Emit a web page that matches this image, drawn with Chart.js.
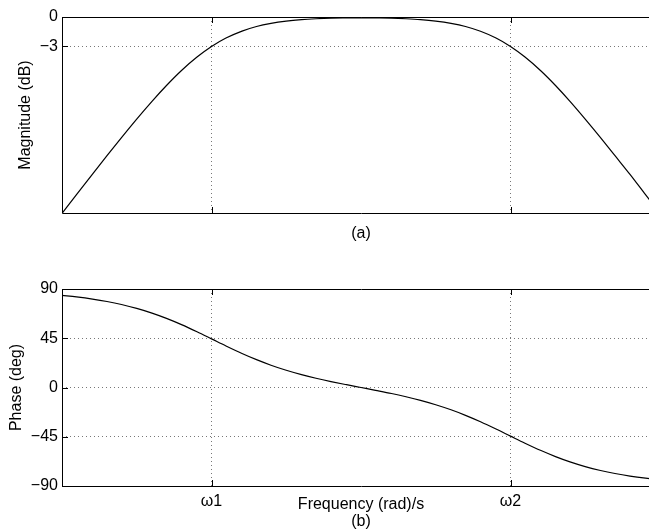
<!DOCTYPE html>
<html>
<head>
<meta charset="utf-8">
<title>Bode plot</title>
<script src="https://cdn.jsdelivr.net/npm/chart.js@4.4.0/dist/chart.umd.min.js"></script>
<style>
  html, body { margin: 0; padding: 0; background: #fff; overflow: hidden; }
  #wrap { position: relative; width: 649px; height: 532px; overflow: hidden; }
  #magBox { position: absolute; left: 0; top: 0; width: 662px; height: 250px; }
  #phaseBox { position: absolute; left: 0; top: 250px; width: 662px; height: 282px; }
</style>
</head>
<body>
<div id="wrap">
  <div id="magBox"><canvas id="magChart"></canvas></div>
  <div id="phaseBox"><canvas id="phaseChart"></canvas></div>
</div>
<script>
// frequency samples (rad/s, w1 = 1, w2 = 100)
const freqs = [0.1, 0.125, 0.16, 0.2, 0.25, 0.316, 0.4, 0.5, 0.63, 0.8,
               1, 1.25, 1.6, 2, 2.5, 3.16, 4, 5, 6.3, 8,
               10, 12.5, 16, 20, 25, 31.6, 40, 50, 63, 80,
               100, 125, 160, 200, 250, 316, 400, 500, 630, 800, 1000];
const magDb = [-20.04, -18.13, -16.03, -14.15, -12.30, -10.41, -8.60, -6.99, -5.46, -4.09,
               -3.01, -2.15, -1.44, -0.97, -0.65, -0.42, -0.27, -0.18, -0.12, -0.10,
               -0.09, -0.10, -0.12, -0.18, -0.27, -0.42, -0.65, -0.97, -1.46, -2.15,
               -3.01, -4.09, -5.51, -6.99, -8.60, -10.41, -12.30, -14.15, -16.06, -18.13, -20.04];
const phaseDeg = [84.23, 82.80, 80.82, 78.58, 75.82, 72.27, 67.97, 63.14, 57.43, 50.88,
                  44.43, 37.94, 31.09, 25.42, 20.37, 15.74, 11.75, 8.45, 5.42, 2.56,
                  0, -2.56, -5.47, -8.45, -11.75, -15.74, -20.37, -25.42, -31.3, -37.94,
                  -44.43, -50.88, -57.63, -63.14, -67.97, -72.27, -75.82, -78.58, -80.9, -82.80, -84.23];

const freqTicks = [1, 100];
const freqTickLabels = ['ω1', 'ω2'];
const magTicks = [0, -3];
const magTickLabels = ['0', '−3'];
const phaseTicks = [90, 45, 0, -45, -90];
const phaseTickLabels = ['90', '45', '0', '−45', '−90'];

Chart.defaults.font.family = '"Liberation Sans", Arial, sans-serif';
Chart.defaults.font.size = 16;
Chart.defaults.color = '#000';

// box round the axes plus inward tick marks, like matlab
const boxPlugin = {
    id: 'boxPlugin',
    afterDraw(chart) {
        const { ctx, chartArea: a, scales } = chart;
        ctx.save();
        ctx.strokeStyle = '#000';
        ctx.lineWidth = 1;
        ctx.beginPath();
        ctx.rect(Math.round(a.left) + 0.5, Math.round(a.top) + 0.5,
                 Math.round(a.right - a.left), Math.round(a.bottom - a.top));
        scales.x.ticks.forEach((t) => {
            const px = Math.round(scales.x.getPixelForValue(t.value)) + 0.5;
            ctx.moveTo(px, a.bottom); ctx.lineTo(px, a.bottom - 6);
            ctx.moveTo(px, a.top); ctx.lineTo(px, a.top + 6);
        });
        scales.y.ticks.forEach((t) => {
            const py = Math.round(scales.y.getPixelForValue(t.value)) + 0.5;
            ctx.moveTo(a.left, py); ctx.lineTo(a.left + 6, py);
        });
        ctx.stroke();
        ctx.restore();
    }
};

const gridStyle = { color: '#777', drawTicks: false };
const dotted = { display: false, dash: [1, 3] };
const titleFont = { size: 16, lineHeight: 1.0625 };

const drawBode = (canvasId, values, cfg) => {
    return new Chart(document.getElementById(canvasId), {
        type: 'line',
        data: {
            datasets: [{
                data: freqs.map((f, i) => ({ x: f, y: values[i] })),
                borderColor: '#000',
                borderWidth: 1.2,
                pointRadius: 0,
                cubicInterpolationMode: 'monotone',
                fill: false
            }]
        },
        options: {
            responsive: true,
            maintainAspectRatio: false,
            animation: false,
            layout: { padding: { top: cfg.padTop, right: 2, bottom: 0, left: 0 } },
            plugins: { legend: { display: false }, tooltip: { enabled: false } },
            scales: {
                x: {
                    type: 'logarithmic',
                    min: 0.1,
                    max: 1000,
                    afterBuildTicks: (s) => { s.ticks = freqTicks.map((v) => ({ value: v })); },
                    afterFit: (s) => { s.height = cfg.xHeight; },
                    ticks: {
                        display: cfg.showFreqLabels,
                        autoSkip: false,
                        maxRotation: 0,
                        padding: 6,
                        callback: (v, i) => freqTickLabels[i]
                    },
                    grid: gridStyle,
                    border: dotted,
                    title: { display: true, text: cfg.xTitle, font: titleFont, padding: { top: 0, bottom: cfg.xTitlePad } }
                },
                y: {
                    min: cfg.yMin,
                    max: cfg.yMax,
                    afterBuildTicks: (s) => { s.ticks = cfg.yTicks.map((v) => ({ value: v })); },
                    afterFit: (s) => { s.width = 62; },
                    ticks: { padding: 4, callback: (v, i) => cfg.yLabels[i] },
                    grid: gridStyle,
                    border: dotted,
                    title: { display: true, text: cfg.yTitle, font: titleFont, padding: { top: cfg.yTitlePad, bottom: 0 } }
                }
            }
        },
        plugins: [boxPlugin]
    });
};

drawBode('magChart', magDb, {
    padTop: 17, xHeight: 37, showFreqLabels: false,
    xTitle: '(a)', xTitlePad: 7.5,
    yMin: -20, yMax: 0, yTicks: magTicks, yLabels: magTickLabels,
    yTitle: 'Magnitude (dB)', yTitlePad: 17
});

drawBode('phaseChart', phaseDeg, {
    padTop: 39, xHeight: 46, showFreqLabels: true,
    xTitle: ['Frequency (rad)/s', '(b)'], xTitlePad: 1.5,
    yMin: -90, yMax: 90, yTicks: phaseTicks, yLabels: phaseTickLabels,
    yTitle: 'Phase (deg)', yTitlePad: 8.5
});
</script>
</body>
</html>
